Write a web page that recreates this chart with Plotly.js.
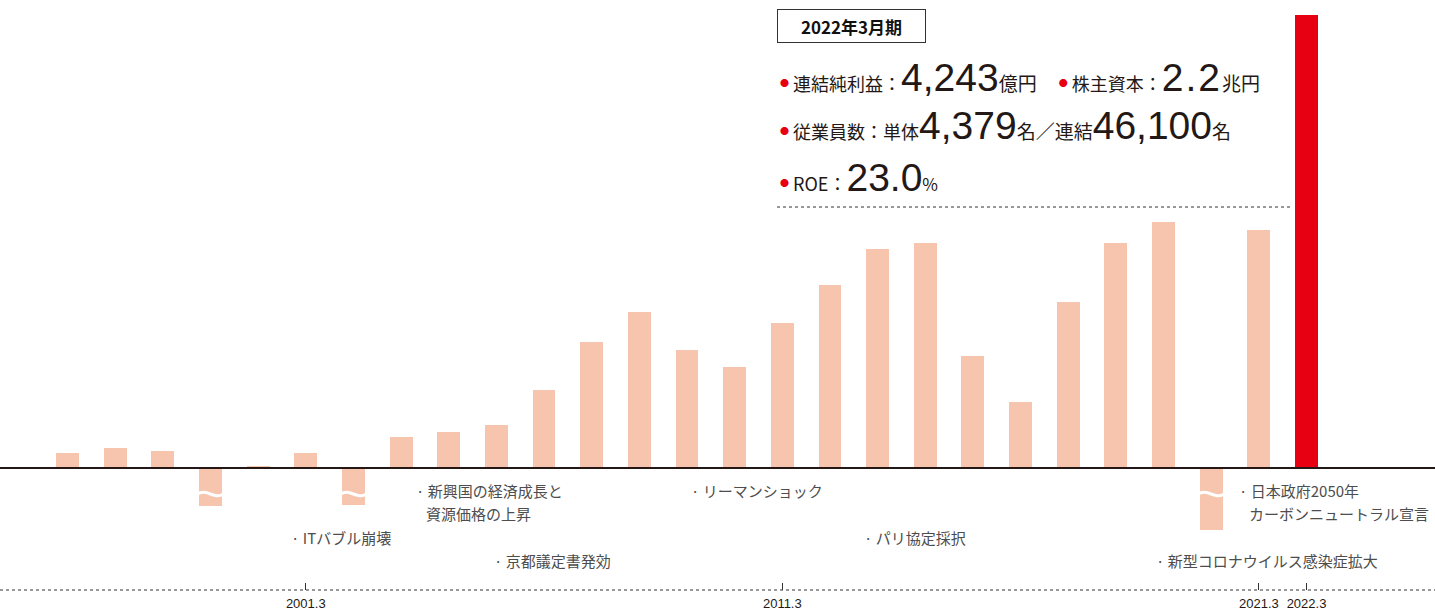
<!DOCTYPE html>
<html><head><meta charset="utf-8">
<script src="https://cdn.plot.ly/plotly-3.0.1.min.js"></script>
<style>html,body{margin:0;padding:0;background:#fff}#chart{width:1435px;height:612px}</style>
</head><body><div id="chart"></div>
<script>
// ---- data ----
const years = [1996,1997,1998,1999,2000,2001,2002,2003,2004,2005,2006,2007,2008,2009,2010,2011,2012,2013,2014,2015,2016,2017,2018,2019,2020,2021,2022];
// 連結純利益（億円）— negative bars are drawn truncated (broken) as in the reference
const netIncome = [140,187,159,-356,16,142,-347,290,337,403,731,1180,1461,1105,946,1358,1714,2051,2107,1049,618,1555,2107,2304,-581,2229,4243];
const brokenYears = [1999,2002,2020];
const tickYears = [2001,2011,2021,2022];
const tickLabels = ['2001.3','2011.3','2021.3','2022.3'];
const highlightYear = 2022;
const events = [
  ['· ITバブル崩壊'],
  ['· 新興国の経済成長と','資源価格の上昇'],
  ['· 京都議定書発効'],
  ['· リーマンショック'],
  ['· パリ協定採択'],
  ['· 日本政府2050年','カーボンニュートラル宣言'],
  ['· 新型コロナウイルス感染症拡大']
];
const periodLabel = '2022年3月期';
const kpiRows = [
  [['連結純利益：','4,243','億円'],['株主資本：','2.2','兆円']],
  [['従業員数：単体','4,379','名／連結'],['','46,100','名']],
  [['ROE：','23.0','%']]
];

// ---- layout helpers ----
const W = 1435, H = 612, T = 15, B = 22;
const PH = H - T - B;
const px = v => v / W;
const py = v => (H - B - v) / PH;
const PINK = '#f7c5ae', RED = '#e60012', INK = '#231815';
const NUMF = "'Liberation Sans', Arial, sans-serif";
const JPF = "'Noto Sans CJK JP', sans-serif";

const yTop = 4243, yPerPx = 4243 / 453;
const yRange = [-(590 - 468) * yPerPx, yTop];
const xRange = [1996 - 67.5 / 47.654, 2022 + (1435 - 1306.5) / 47.654];

const trace = {
  type: 'bar', x: years, y: netIncome, width: 0.48,
  marker: { color: years.map(y => y === highlightYear ? RED : PINK), line: { width: 0 } },
  hoverinfo: 'x+y'
};

const shapes = [];
shapes.push({ type: 'line', xref: 'paper', yref: 'y', x0: 0, x1: 1, y0: 0, y1: 0, line: { color: INK, width: 2 }, layer: 'above' });
shapes.push({ type: 'line', xref: 'paper', yref: 'paper', x0: 0, x1: 1, y0: 0, y1: 0, line: { color: '#333', width: 1, dash: 'dot' }, layer: 'above' });
shapes.push({ type: 'line', xref: 'paper', yref: 'paper', x0: px(777), x1: px(1292), y0: py(207), y1: py(207), line: { color: '#333', width: 1.2, dash: 'dot' } });
const breakV = -26 * yPerPx, amp = 4 * yPerPx;
brokenYears.forEach(yr => {
  shapes.push({ type: 'path', xref: 'x', yref: 'y', layer: 'above',
    path: `M ${yr-0.27},${breakV} C ${yr-0.08},${breakV+amp*1.6} ${yr+0.08},${breakV-amp*1.6} ${yr+0.27},${breakV}`,
    line: { color: '#fff', width: 3 } });
});

const annotations = [];
const evPos = [
  [[289,537]],
  [[414,490],[424,513]],
  [[492,560]],
  [[689,490]],
  [[862,537]],
  [[1237,490],[1247,513]],
  [[1154,560]]
];
events.forEach((lines, i) => lines.forEach((t, j) => {
  annotations.push({ xref: 'paper', yref: 'paper', x: px(evPos[i][j][0]), y: py(evPos[i][j][1]),
    xanchor: 'left', yanchor: 'middle', showarrow: false, text: t,
    font: { family: JPF, size: 15, color: '#4d4d4d' } });
}));

annotations.push({ xref: 'paper', yref: 'paper', x: px(851.5), y: py(26), xanchor: 'center', yanchor: 'middle',
  showarrow: false, text: '<b>' + periodLabel + '</b>', width: 147, height: 32, borderpad: 0,
  bordercolor: '#333', borderwidth: 1, bgcolor: '#fff', font: { family: JPF, size: 17, color: '#111' } });

const rowY = [77, 126, 178];
const bullet = `<span style="color:${RED};font-size:9px;baseline-shift:5px">●</span><span style="font-size:18px"> </span>`;
kpiRows.forEach((row, r) => {
  const txt = row.map(([lab, num, unit]) => {
    const b = lab === '' ? '' : bullet;
    const ls = num.length <= 3 ? 'letter-spacing:2px;' : '';
    return b + `<span style="font-size:18px">${lab}</span>` +
      `<span style="${ls}font-family:${NUMF.replace(/'/g, '&#39;')};font-size:39px">${num}</span>` +
      `<span style="font-size:${unit === '%' ? 17 : 19}px">${unit}</span>`;
  });
  annotations.push({ xref: 'paper', yref: 'paper', x: px(778), y: py(rowY[r]), xanchor: 'left', yanchor: 'middle',
    showarrow: false, text: txt.join(r === 0 ? '<span style="font-size:18px">　 </span>' : ''),
    font: { family: JPF, size: 18, color: INK } });
});

const layout = {
  width: W, height: H, margin: { l: 0, r: 0, t: T, b: B }, paper_bgcolor: '#fff', plot_bgcolor: '#fff',
  showlegend: false, bargap: 0,
  xaxis: { type: 'linear', range: xRange, showgrid: false, zeroline: false, showline: false,
    tickmode: 'array', tickvals: tickYears, ticktext: tickLabels, ticks: 'inside', ticklen: 7, tickwidth: 1, tickcolor: '#333',
    ticklabelstandoff: 4,
    tickfont: { family: NUMF, size: 13, color: INK }, fixedrange: true },
  yaxis: { range: yRange, showgrid: false, zeroline: false, showline: false, showticklabels: false, ticks: '', fixedrange: true },
  shapes, annotations
};
Plotly.newPlot('chart', [trace], layout, { displayModeBar: false, staticPlot: true });
</script></body></html>
